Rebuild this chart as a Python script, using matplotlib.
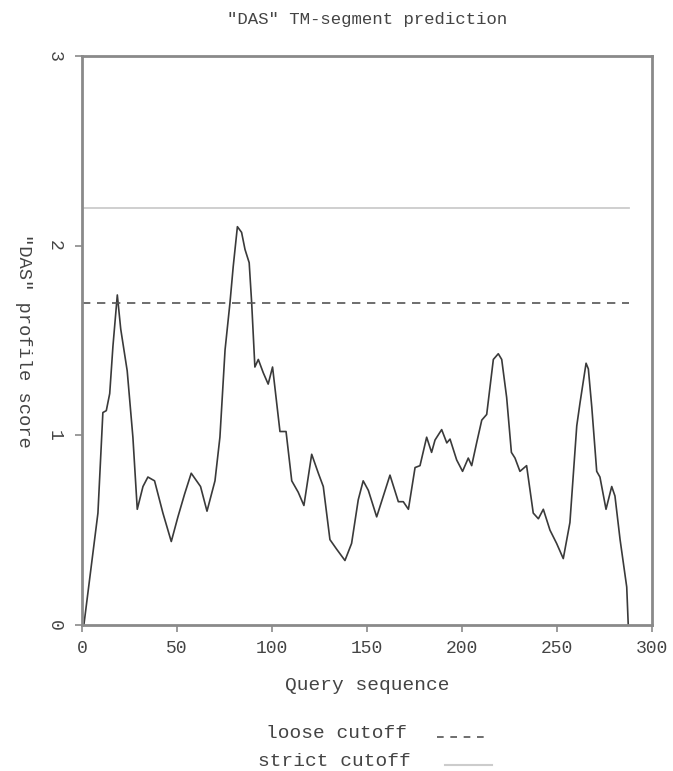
import matplotlib
matplotlib.use("Agg")
import matplotlib.pyplot as plt
from matplotlib.lines import Line2D

# DAS profile
pos = [1, 8.4, 11, 12.8, 14.6, 16.3, 18.6, 20.4, 23.8, 26.8, 29.1, 32.1, 34.7,
       38.2, 42.6, 47, 50.5, 54, 57.5, 62.4, 65.8, 70, 72.6, 75.3, 77.9, 79.6,
       81.8, 84, 85.8, 88, 89.3, 91, 92.8, 95.4, 98, 100.3, 104.2, 107.4,
       110.4, 113.8, 116.8, 120.9, 124.4, 127, 130.5, 134, 138.4, 141.9,
       145.4, 148, 150.7, 155.1, 158.6, 162.1, 166.5, 169.1, 171.8, 175.3,
       177.9, 181.4, 184, 185.8, 189.3, 192, 193.7, 197.2, 200.3, 203.3,
       205.1, 207.7, 210.4, 213, 216.5, 219.1, 220.9, 223.5, 226, 227.9,
       230.5, 234, 237.5, 240.2, 242.8, 246.3, 249.8, 253.3, 256.8, 260.4,
       262.1, 265.3, 266.5, 268.3, 270.9, 272.6, 275.8, 278.8, 280.5, 283.2,
       286.7, 287.5]
score = [0.0, 0.59, 1.12, 1.13, 1.22, 1.47, 1.74, 1.56, 1.34, 0.99, 0.61, 0.73,
         0.78, 0.76, 0.59, 0.44, 0.57, 0.69, 0.80, 0.73, 0.60, 0.76, 0.99,
         1.45, 1.70, 1.89, 2.10, 2.07, 1.98, 1.91, 1.70, 1.36, 1.40, 1.33,
         1.27, 1.36, 1.02, 1.02, 0.76, 0.70, 0.63, 0.90, 0.80, 0.73, 0.45,
         0.40, 0.34, 0.43, 0.66, 0.76, 0.71, 0.57, 0.68, 0.79, 0.65, 0.65,
         0.61, 0.83, 0.84, 0.99, 0.91, 0.975, 1.03, 0.96, 0.98, 0.87, 0.81,
         0.88, 0.84, 0.96, 1.08, 1.11, 1.40, 1.43, 1.40, 1.20, 0.91, 0.88,
         0.81, 0.84, 0.59, 0.56, 0.61, 0.50, 0.43, 0.35, 0.54, 1.05, 1.17,
         1.38, 1.35, 1.15, 0.81, 0.78, 0.61, 0.73, 0.68, 0.45, 0.20, 0.0]

loose_cutoff = 1.7
strict_cutoff = 2.2
seq_len = 288

xticks = [0, 50, 100, 150, 200, 250, 300]
yticks = [0, 1, 2, 3]

font = "Liberation Mono"
frame = "#8a8a8a"
txt = "#444444"

fig = plt.figure(figsize=(6.73, 7.71), dpi=100)
ax = fig.add_axes([0.1218, 0.1894, 0.847, 0.738])

ax.plot(pos, score, color="#3a3a3a", lw=1.2)
ax.plot([0, seq_len], [loose_cutoff, loose_cutoff], color="#555555",
        lw=1.2, dashes=(5, 4))
ax.plot([0, seq_len], [strict_cutoff, strict_cutoff], color="#cccccc", lw=1.3)

ax.set_xlim(0, 300)
ax.set_ylim(0, 3)
ax.set_xticks(xticks)
ax.set_yticks(yticks)
ax.set_xticklabels([str(t) for t in xticks], family=font, fontsize=13,
                   color=txt)
ax.set_yticklabels([str(t) for t in yticks], family=font, fontsize=13,
                   color=txt, rotation=-90, va="center")
ax.tick_params(axis="x", length=5, width=1.2, color=frame, pad=6)
ax.tick_params(axis="y", length=5, width=1.2, color=frame, pad=9)
for sp in ax.spines.values():
    sp.set_color(frame)
    sp.set_linewidth(2)

ax.set_xlabel("Query sequence", family=font, fontsize=14, color=txt,
              labelpad=14)
ax.set_ylabel('"DAS" profile score', family=font, fontsize=13.5,
              color=txt, rotation=-90, labelpad=22)
ax.set_title('"DAS" TM-segment prediction', family=font, fontsize=12.5,
             color=txt, pad=23)

# legend underneath, drawn by hand like the original
fig.text(0.395, 1 - 733 / 771, "loose cutoff", family=font, fontsize=14,
         color=txt, va="center")
fig.text(0.384, 1 - 761 / 771, "strict cutoff", family=font, fontsize=14,
         color=txt, va="center")
fig.add_artist(Line2D([437 / 673, 485 / 673], [1 - 737 / 771] * 2,
                      color="#555555", lw=1.2, dashes=(4, 4)))
fig.add_artist(Line2D([445 / 673, 492 / 673], [1 - 765 / 771] * 2,
                      color="#cccccc", lw=1.5))

fig.savefig("out.png", dpi=100)
